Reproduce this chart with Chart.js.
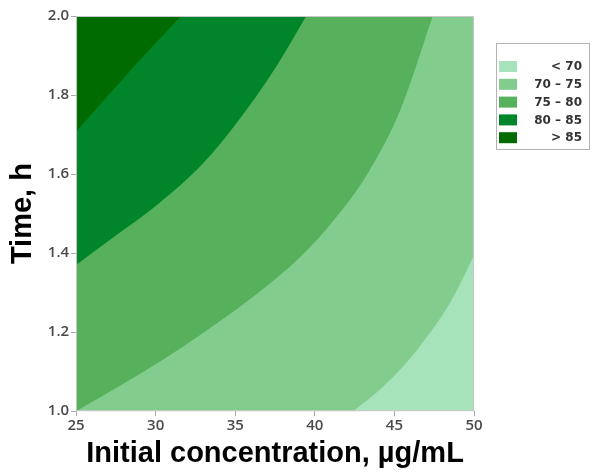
<!DOCTYPE html>
<html>
<head>
<meta charset="utf-8">
<script src="https://cdn.jsdelivr.net/npm/chart.js@4.4.0/dist/chart.umd.min.js"></script>
<style>
    html, body { margin: 0; padding: 0; background: #fff; }
    #wrap { width: 592px; height: 474px; }
</style>
</head>
<body>
<div id="wrap"><canvas id="contourChart" width="592" height="474"></canvas></div>
<script>
// contour levels, in legend order
var levelLabels = ['< 70', '70 \u2013 75', '75 \u2013 80', '80 \u2013 85', '> 85'];
var levelColors = ['#a6e3ba', '#82cc8e', '#56b05c', '#00852a', '#006b00'];

// axis ticks
var xTicks = [25, 30, 35, 40, 45, 50];
var yTicks = [1.0, 1.2, 1.4, 1.6, 1.8, 2.0];

// contour boundaries (concentration, time)
var c70x = [42.42, 44.32, 46.46, 48.55, 50];
var c70y = [1.0, 1.063, 1.157, 1.278, 1.394];

var c75x = [25, 27.71, 30.87, 32.77, 35.92, 39.08, 41.16, 43.31, 45.39, 47.41];
var c75y = [1.0, 1.063, 1.141, 1.192, 1.283, 1.39, 1.482, 1.601, 1.764, 2.0];

var c80x = [25, 27.65, 30.18, 32.95, 35.04, 37.56, 39.46];
var c80y = [1.37, 1.449, 1.525, 1.626, 1.727, 1.871, 2.0];

var c85x = [25, 27, 29, 31.6];
var c85y = [1.707, 1.798, 1.888, 2.0];

function toPoints(xs, ys) {
    var pts = [];
    for (var i = 0; i <= xs.length - 1; i++) {
        pts.push({ x: xs[i], y: ys[i] });
    }
    return pts;
}

// whole plot floor, the 70-75 band sits under everything
var baseLine = toPoints([xTicks[0], xTicks[xTicks.length - 1]], [yTicks[0], yTicks[0]]);

function band(idx, data, fill, order) {
    return {
        label: levelLabels[idx],
        data: data,
        backgroundColor: levelColors[idx],
        borderColor: levelColors[idx],
        borderWidth: 0,
        pointRadius: 0,
        cubicInterpolationMode: 'monotone',
        fill: fill,
        order: order
    };
}

var plotFrame = {
    id: 'plotFrame',
    afterDatasetsDraw: function (chart) {
        var a = chart.chartArea, ctx = chart.ctx;
        ctx.save();
        ctx.strokeStyle = '#c8c8c8';
        ctx.lineWidth = 1;
        ctx.strokeRect(a.left + 0.5, a.top + 0.5, a.right - a.left - 1, a.bottom - a.top - 1);
        ctx.restore();
    }
};

var boxLegend = {
    id: 'boxLegend',
    afterDraw: function (chart) {
        var ctx = chart.ctx;
        var sets = chart.data.datasets;
        ctx.save();
        ctx.strokeStyle = '#b4b4b4';
        ctx.lineWidth = 1;
        ctx.strokeRect(496.5, 43.5, 93, 106);
        ctx.font = 'bold 12px "DejaVu Sans"';
        ctx.textAlign = 'right';
        ctx.textBaseline = 'middle';
        for (var i = 0; i <= sets.length - 1; i++) {
            var y = 61 + i * 17.8;
            ctx.fillStyle = sets[i].backgroundColor;
            ctx.fillRect(499, y, 18, 11);
            ctx.fillStyle = '#333';
            ctx.fillText(sets[i].label, 582, y + 6);
        }
        ctx.restore();
    }
};

var tickFont = { family: '"Open Sans"', size: 15, weight: '600' };
var titleFont = { family: '"Liberation Sans"', size: 29, weight: 'bold' };

new Chart(document.getElementById('contourChart'), {
    type: 'line',
    data: {
        datasets: [
            band(0, toPoints(c70x, c70y), 'start', 4),
            band(1, baseLine, 'end', 5),
            band(2, toPoints(c75x, c75y), 'end', 3),
            band(3, toPoints(c80x, c80y), 'end', 2),
            band(4, toPoints(c85x, c85y), 'end', 1)
        ]
    },
    options: {
        responsive: false,
        animation: false,
        layout: { padding: { left: 6, right: 118, top: 16, bottom: 3 } },
        plugins: {
            legend: { display: false },
            tooltip: { enabled: false }
        },
        scales: {
            x: {
                type: 'linear',
                min: 25,
                max: 50,
                afterBuildTicks: function (s) { s.ticks = xTicks.map(function (v) { return { value: v }; }); },
                ticks: { font: tickFont, color: '#4a4a4a', padding: 1, maxRotation: 0 },
                grid: { drawOnChartArea: false, tickLength: 5, color: '#aaa' },
                border: { display: false },
                title: { display: true, text: 'Initial concentration, \u00b5g/mL', font: titleFont, color: '#000', padding: { top: 0, bottom: 0 } }
            },
            y: {
                type: 'linear',
                min: 1,
                max: 2,
                afterBuildTicks: function (s) { s.ticks = yTicks.map(function (v) { return { value: v }; }); },
                ticks: { font: tickFont, color: '#4a4a4a', padding: 2, callback: function (v) { return v.toFixed(1); } },
                grid: { drawOnChartArea: false, tickLength: 5, color: '#aaa' },
                border: { display: false },
                title: { display: true, text: 'Time, h', font: titleFont, color: '#000', padding: { top: 0, bottom: 5 } }
            }
        }
    },
    plugins: [plotFrame, boxLegend]
});
</script>
</body>
</html>
